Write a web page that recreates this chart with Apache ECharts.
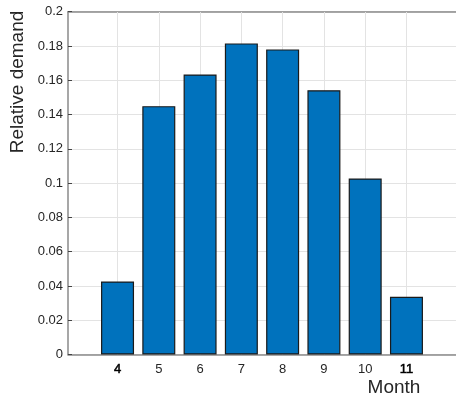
<!DOCTYPE html>
<html>
<head>
<meta charset="utf-8">
<script src="https://cdn.jsdelivr.net/npm/echarts@6/dist/echarts.min.js"></script>
<style>html,body{margin:0;padding:0;background:#fff}#c{width:456px;height:401px}</style>
</head>
<body>
<div id="c"></div>
<script>
const months = [4, 5, 6, 7, 8, 9, 10, 11];
const demand = [0.0426, 0.1449, 0.1634, 0.1815, 0.1780, 0.1542, 0.1027, 0.0337];
const boldMonths = [4, 11];
const yLabel = 'Relative demand';
const xLabel = 'Month';

const FONT = 'Liberation Sans, Arial, Helvetica, sans-serif';
const chart = echarts.init(document.getElementById('c'), null, {renderer: 'canvas'});

const axisGray = '#8a8a8a';
const gridGray = '#e3e3e3';
const textCol = '#262626';

chart.setOption({
  animation: false,
  backgroundColor: '#fff',
  grid: {left: 68, top: 11.7, right: -4, bottom: 46.5, containLabel: false},
  xAxis: [{
    type: 'value', position: 'bottom', min: 2.8, max: 12.2,
    axisLine: {show: true, onZero: false, lineStyle: {color: axisGray, width: 1.5}},
    axisTick: {show: true, inside: true, length: 4, customValues: months, lineStyle: {color: '#444', width: 1}},
    axisLabel: {
      show: true, customValues: months, margin: 8,
      formatter: v => (boldMonths.indexOf(v) >= 0 ? '{b|' + v + '}' : '{n|' + v + '}'),
      rich: {
        b: {fontFamily: FONT, fontSize: 13, color: '#000', textBorderColor: '#222', textBorderWidth: 0.6},
        n: {fontFamily: FONT, fontSize: 13, color: textCol}
      }
    },
    splitLine: {show: false}
  }, {
    type: 'value', position: 'top', min: 2.8, max: 12.2,
    axisLine: {show: true, onZero: false, lineStyle: {color: axisGray, width: 1.5}},
    axisTick: {show: true, inside: true, length: 4, customValues: months, lineStyle: {color: '#444', width: 1}},
    axisLabel: {show: false},
    splitLine: {show: false}
  }],
  yAxis: {
    type: 'value', min: 0, max: 0.2, interval: 0.02,
    axisLine: {show: true, onZero: false, lineStyle: {color: axisGray, width: 1.5}},
    axisTick: {show: true, inside: true, length: 4, lineStyle: {color: '#444', width: 1}},
    axisLabel: {fontFamily: FONT, fontSize: 13, color: textCol, margin: 5},
    splitLine: {show: true, lineStyle: {color: gridGray, width: 1}}
  },
  series: [{
    type: 'line', xAxisIndex: 0, data: [], z: 1, silent: true,
    markLine: {
      silent: true, z: 1, symbol: ['none', 'none'], label: {show: false},
      lineStyle: {color: gridGray, width: 1, type: 'solid'},
      data: months.map(m => ({xAxis: m}))
    }
  }, {
    type: 'bar', xAxisIndex: 0, z: 3,
    data: months.map((m, i) => [m, demand[i]]),
    barWidth: 33,
    itemStyle: {color: '#0072BD', borderColor: '#1a1a1a', borderWidth: 1.2}
  }],
  graphic: [{
    type: 'text', x: 17.5, y: 82, rotation: Math.PI / 2,
    style: {text: yLabel, fontFamily: FONT, fontSize: 19, fill: textCol, align: 'center', verticalAlign: 'middle'}
  }, {
    type: 'text', x: 394, y: 388,
    style: {text: xLabel, fontFamily: FONT, fontSize: 19, fill: textCol, align: 'center', verticalAlign: 'middle'}
  }]
});
</script>
</body>
</html>
